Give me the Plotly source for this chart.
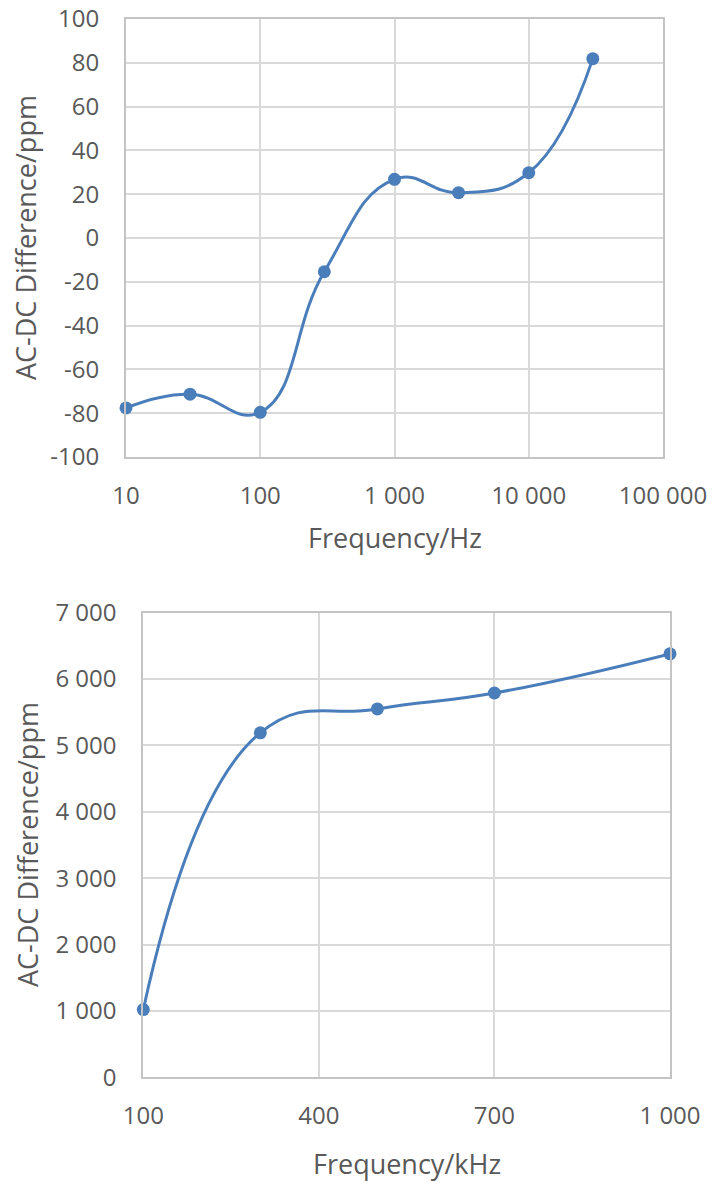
import plotly.graph_objects as go

# Low-frequency range (Hz), AC-DC difference in ppm
freq_hz = [10, 30, 100, 300, 1000, 3000, 10000, 30000]
diff_low = [-77.6, -71.3, -79.6, -15.4, 26.8, 20.7, 29.8, 81.9]

# High-frequency range (kHz), AC-DC difference in ppm
freq_khz = [100, 300, 500, 700, 1000]
diff_high = [1020, 5190, 5550, 5790, 6380]

# Tick labels
x1_ticks = [10, 100, 1000, 10000, 100000]
x1_text = ["10", "100", "1 000", "10 000", "100 000"]
y1_ticks = [100, 80, 60, 40, 20, 0, -20, -40, -60, -80, -100]
y1_text = ["100", "80", "60", "40", "20", "0", "-20", "-40", "-60", "-80", "-100"]
x2_ticks = [100, 400, 700, 1000]
x2_text = ["100", "400", "700", "1 000"]
y2_ticks = [0, 1000, 2000, 3000, 4000, 5000, 6000, 7000]
y2_text = ["0", "1 000", "2 000", "3 000", "4 000", "5 000", "6 000", "7 000"]

W, H = 712, 1182
BLUE = "#4A7EBB"
GRID = "#D9D9D9"
AXIS = "#C4C4C4"
TXT = "#595959"
FONT = "Open Sans"

fig = go.Figure()

fig.add_trace(go.Scatter(
    x=freq_hz, y=diff_low, mode="lines+markers",
    line=dict(color=BLUE, width=3, shape="spline", smoothing=1.3),
    marker=dict(color=BLUE, size=13),
    xaxis="x", yaxis="y", showlegend=False, cliponaxis=False,
))
fig.add_trace(go.Scatter(
    x=freq_khz, y=diff_high, mode="lines+markers",
    line=dict(color=BLUE, width=3, shape="spline", smoothing=1.3),
    marker=dict(color=BLUE, size=13),
    xaxis="x2", yaxis="y2", showlegend=False, cliponaxis=False,
))

# pixel box of each plot area -> paper fractions
top_box = (126, 663, 19, 457)
bot_box = (143.3, 670, 612.7, 1077.3)


def dom_x(b):
    return [b[0] / W, b[1] / W]


def dom_y(b):
    return [1 - b[3] / H, 1 - b[2] / H]


axis_common = dict(
    showgrid=True, gridcolor=GRID, gridwidth=2,
    showline=True, linecolor=AXIS, linewidth=2, mirror=True,
    zeroline=False, ticks="", automargin=False,
    tickfont=dict(family=FONT, size=24, color=TXT),
    tickmode="array",
)

fig.update_layout(
    width=W, height=H,
    margin=dict(l=0, r=0, t=0, b=0, pad=0),
    paper_bgcolor="white", plot_bgcolor="white",
    font=dict(family=FONT, color=TXT),
    xaxis=dict(domain=dom_x(top_box), anchor="y", type="log", range=[1, 5],
               tickvals=x1_ticks, ticktext=x1_text, ticklabelstandoff=16,
               **axis_common),
    yaxis=dict(domain=dom_y(top_box), anchor="x", range=[-100, 100],
               tickvals=y1_ticks, ticktext=y1_text, ticklabelstandoff=20,
               **axis_common),
    xaxis2=dict(domain=dom_x(bot_box), anchor="y2", range=[100, 1000],
                tickvals=x2_ticks, ticktext=x2_text, ticklabelstandoff=16,
                **axis_common),
    yaxis2=dict(domain=dom_y(bot_box), anchor="x2", range=[0, 7000],
                tickvals=y2_ticks, ticktext=y2_text, ticklabelstandoff=20,
                **axis_common),
)

title_font = dict(family=FONT, size=27, color=TXT)
ann = [
    dict(text="AC-DC Difference/ppm", x=26 / W, y=(1 - (19 + 457) / 2 / H),
         textangle=-90),
    dict(text="Frequency/Hz", x=(126 + 663) / 2 / W, y=1 - 537 / H),
    dict(text="AC-DC Difference/ppm", x=27 / W, y=(1 - (612.7 + 1077.3) / 2 / H),
         textangle=-90),
    dict(text="Frequency/kHz", x=(143.3 + 670) / 2 / W, y=1 - 1163 / H),
]
for a in ann:
    fig.add_annotation(xref="paper", yref="paper", showarrow=False,
                       xanchor="center", yanchor="middle", font=title_font, **a)

fig.write_html("out.html")
